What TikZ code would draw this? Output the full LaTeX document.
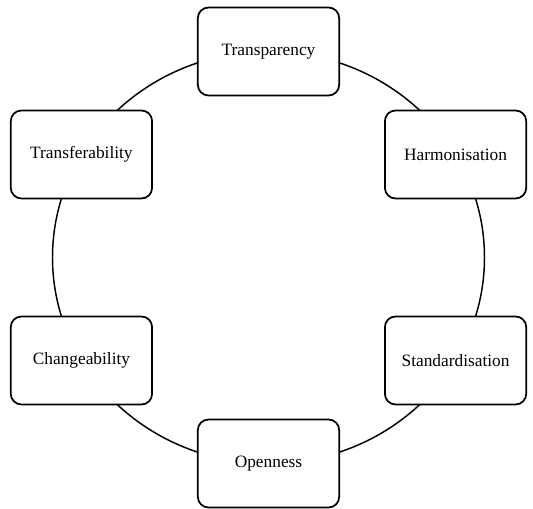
\documentclass[tikz,border=0pt]{standalone}
\usepackage{fontspec}
\setmainfont{Liberation Serif}
\usepackage{tikz}
\tikzset{
    block/.style={rectangle, draw, fill=white, line width=1.3pt, rounded corners=8pt, minimum width=106pt, minimum height=66pt, text centered, font=\fontsize{13}{15}\selectfont},
    ring/.style={line width=1.1pt}
}

\begin{document}
\begin{tikzpicture}[x=0.75pt, y=0.75pt]
    \useasboundingbox (-268.5,-251.5) rectangle (264.5,257.5);
    % Centre and ring
    \coordinate (centre) at (0,0);
    \draw [ring] (centre) ellipse [x radius=216, y radius=206];

    % Place nodes
    \node [block] (transparency) at (90:216 and 206) {Transparency};
    \node [block] (harmonisation) at (30:216 and 206) {Harmonisation};
    \node [block] (standardisation) at (-30:216 and 206) {Standardisation};
    \node [block] (openness) at (-90:216 and 206) {Openness};
    \node [block] (changeability) at (-150:216 and 206) {Changeability};
    \node [block] (transferability) at (150:216 and 206) {Transferability};
\end{tikzpicture}
\end{document}
